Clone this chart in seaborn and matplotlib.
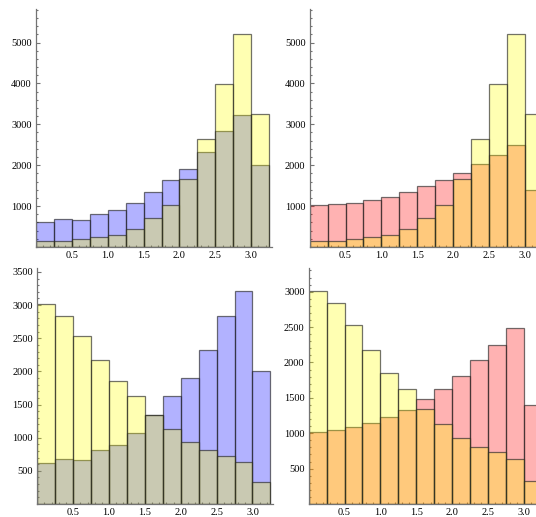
import numpy as np
import pandas as pd
import matplotlib
matplotlib.use("Agg")
import matplotlib.pyplot as plt
from matplotlib.ticker import MultipleLocator, FixedLocator
import seaborn as sns

# Bin counts, 13 bins of width 0.25 starting at 0
blue_counts = [612, 675, 660, 818, 895, 1075, 1345, 1635, 1900, 2325, 2840, 3220, 2005]
pink_counts = [1015, 1040, 1085, 1145, 1228, 1335, 1485, 1630, 1812, 2040, 2242, 2485, 1400]
rising_counts = [147, 147, 204, 244, 301, 440, 700, 1020, 1655, 2635, 3990, 5220, 3262]
falling_counts = [3015, 2840, 2530, 2172, 1855, 1632, 1345, 1135, 930, 810, 730, 633, 330]

x_ticks = [0.5, 1.0, 1.5, 2.0, 2.5, 3.0]
y_ticks_top = [1000, 2000, 3000, 4000, 5000]
y_ticks_bl = [500, 1000, 1500, 2000, 2500, 3000, 3500]
y_ticks_br = [500, 1000, 1500, 2000, 2500, 3000]

bin_width = 0.25
n_bins = len(blue_counts)
centers = np.arange(n_bins) * bin_width + bin_width / 2

sns.set_theme(style="white")
plt.rcParams["font.family"] = ["Liberation Serif", "DejaVu Serif"]

W, H = 536, 517
fig = plt.figure(figsize=(W / 100, H / 100), dpi=100)


def px_axes(left, top, width, bottom):
    return fig.add_axes([left / W, 1 - bottom / H, width / W, (bottom - top) / H])


BLUE = (0.0, 0.0, 1.0)
RED = (1.0, 0.0, 0.0)
YELLOW = (1.0, 1.0, 0.0)
EDGE = (0.15, 0.15, 0.15, 0.65)
AXIS = (0.45, 0.45, 0.45)


def panel(ax, back, back_color, front, ylim, yticks, ymin_step):
    for counts, color in ((back, back_color), (front, YELLOW)):
        df = pd.DataFrame({"x": centers, "n": counts})
        sns.histplot(data=df, x="x", weights="n", binwidth=bin_width,
                     binrange=(0, n_bins * bin_width), ax=ax,
                     color=color, alpha=0.3, edgecolor=EDGE, linewidth=0.9)
    ax.set_xlim(0, 3.29)
    ax.set_ylim(0, ylim)
    ax.set_xlabel("")
    ax.set_ylabel("")
    for s in ("top", "right"):
        ax.spines[s].set_visible(False)
    for s in ("left", "bottom"):
        ax.spines[s].set_color(AXIS)
        ax.spines[s].set_linewidth(0.9)
        ax.spines[s].set_zorder(5)
    ax.xaxis.set_major_locator(FixedLocator(x_ticks))
    ax.xaxis.set_minor_locator(MultipleLocator(0.1))
    ax.yaxis.set_major_locator(FixedLocator(yticks))
    ax.yaxis.set_minor_locator(MultipleLocator(ymin_step))
    ax.set_xticklabels([f"{v:.1f}" for v in x_ticks])
    ax.set_yticklabels([str(v) for v in yticks])
    ax.tick_params(which="both", direction="in", color=AXIS, width=0.8,
                   labelsize=7.5, labelcolor="black")
    ax.tick_params(which="major", length=3.2, pad=3)
    ax.tick_params(which="minor", length=1.7)
    ax.tick_params(axis="x", which="both", bottom=True)
    ax.tick_params(axis="y", which="both", left=True)
    ax.patch.set_alpha(0)


ax_tl = px_axes(36, 9, 236, 247)
panel(ax_tl, blue_counts, BLUE, rising_counts, 5820, y_ticks_top, 200)

ax_tr = px_axes(309.7, 9, 236, 247)
panel(ax_tr, pink_counts, RED, rising_counts, 5820, y_ticks_top, 200)

ax_bl = px_axes(37.3, 268, 236, 504)
panel(ax_bl, blue_counts, BLUE, falling_counts, 3560, y_ticks_bl, 100)

ax_br = px_axes(308.7, 268, 236, 504)
panel(ax_br, pink_counts, RED, falling_counts, 3335, y_ticks_br, 100)

fig.savefig("out.png", dpi=100, facecolor="white")
